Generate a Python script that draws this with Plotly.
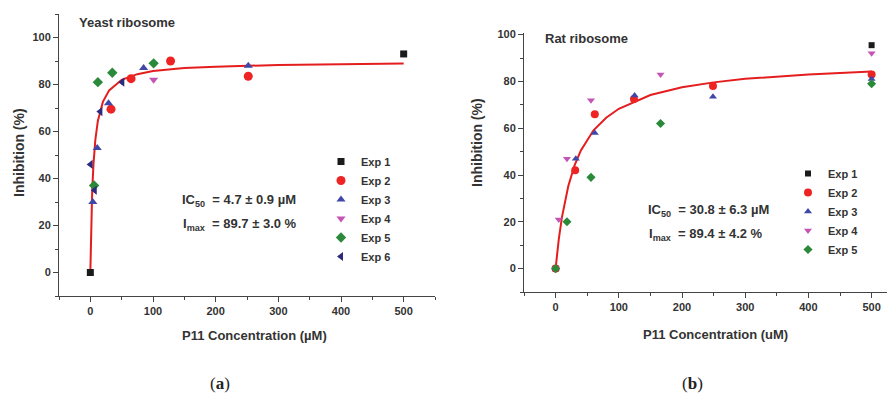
import plotly.graph_objects as go

# ---------------- Data: panel (a) Yeast ribosome ----------------
a_exp1_x = [0, 500]
a_exp1_y = [0, 93]
a_exp2_x = [33, 65, 128, 252]
a_exp2_y = [69.5, 82.5, 90, 83.5]
a_exp3_x = [4, 11, 29, 85, 252]
a_exp3_y = [30, 53, 72, 87, 88]
a_exp4_x = [101]
a_exp4_y = [82]
a_exp5_x = [6, 12, 35, 101]
a_exp5_y = [37, 81, 85, 89]
a_exp6_x = [0.5, 7, 16, 51]
a_exp6_y = [46, 35, 68.5, 81]
# fitted curve
a_fit_x = [0, 1, 2, 3, 5, 8, 12, 20, 30, 50, 75, 100, 150, 200, 300, 400, 500]
a_fit_y = [0, 15.7, 26.8, 35, 46, 56.5, 64.5, 72.6, 77.5, 82, 84.4, 85.7, 87, 87.6, 88.3, 88.7, 88.9]

# ---------------- Data: panel (b) Rat ribosome ----------------
b_exp1_x = [0, 500]
b_exp1_y = [0, 95.5]
b_exp2_x = [0, 31, 62, 124, 249, 500]
b_exp2_y = [0, 42, 66, 72.5, 78, 83]
b_exp3_x = [0, 32, 62, 125, 249, 500]
b_exp3_y = [0, 47, 58, 74, 73.5, 81]
b_exp4_x = [0, 5, 18, 56, 166, 500]
b_exp4_y = [0, 21, 47, 72, 83, 92]
b_exp5_x = [0, 18, 56, 166, 500]
b_exp5_y = [0, 20, 39, 62, 79]
b_fit_x = [0, 2, 5, 10, 15, 20, 30, 40, 60, 80, 100, 150, 200, 250, 300, 400, 500]
b_fit_y = [0, 5.5, 12.5, 21.9, 29.3, 35.2, 44.1, 50.5, 59.1, 64.5, 68.3, 74.2, 77.5, 79.6, 81.1, 83, 84.2]

series_names = ["Exp 1", "Exp 2", "Exp 3", "Exp 4", "Exp 5", "Exp 6"]
colors = ["#1b1b1b", "#ee2424", "#3f48a8", "#c455b4", "#2a8a3a", "#2b2a7e"]
symbols = ["square", "circle", "triangle-up", "triangle-down", "diamond", "triangle-left"]
sizes = [7, 9, 8, 8, 8, 8]

# page offset (browser body margin) compensation
W, H, OFF = 887, 387, 8


def px(x):
    return (x - OFF) / W


def py(y):
    return (395 - y) / H


fig = go.Figure()

a_sets = [(a_exp1_x, a_exp1_y), (a_exp2_x, a_exp2_y), (a_exp3_x, a_exp3_y),
          (a_exp4_x, a_exp4_y), (a_exp5_x, a_exp5_y), (a_exp6_x, a_exp6_y)]
b_sets = [(b_exp1_x, b_exp1_y), (b_exp2_x, b_exp2_y), (b_exp3_x, b_exp3_y),
          (b_exp4_x, b_exp4_y), (b_exp5_x, b_exp5_y)]

fig.add_trace(go.Scatter(x=a_fit_x, y=a_fit_y, mode="lines", line=dict(color="#e41e1e", width=2),
                         showlegend=False, xaxis="x", yaxis="y"))
for i, (xs, ys) in enumerate(a_sets):
    fig.add_trace(go.Scatter(x=xs, y=ys, mode="markers", name=series_names[i],
                             marker=dict(symbol=symbols[i], color=colors[i], size=sizes[i]),
                             xaxis="x", yaxis="y", legend="legend"))

fig.add_trace(go.Scatter(x=b_fit_x, y=b_fit_y, mode="lines", line=dict(color="#e41e1e", width=2),
                         showlegend=False, xaxis="x2", yaxis="y2"))
for i, (xs, ys) in enumerate(b_sets):
    fig.add_trace(go.Scatter(x=xs, y=ys, mode="markers", name=series_names[i],
                             marker=dict(symbol=symbols[i], color=colors[i], size=sizes[i] - 1),
                             xaxis="x2", yaxis="y2", legend="legend2"))

axis_common = dict(showline=True, linecolor="#444", linewidth=1, ticks="outside", ticklen=5,
                   tickcolor="#444", showgrid=False, zeroline=False, automargin=False,
                   tickfont=dict(family="Liberation Sans", size=11, color="#333", weight="bold"))
minor = dict(ticklen=3, tickcolor="#444", ticks="outside")

fig.update_layout(
    width=W, height=H, margin=dict(l=0, r=0, t=0, b=0, autoexpand=False),
    paper_bgcolor="white", plot_bgcolor="white",
    xaxis=dict(domain=[px(59), px(435)], range=[-50, 550], tick0=0, dtick=100,
               minor=dict(dtick=50, **minor), anchor="y", **axis_common),
    yaxis=dict(domain=[py(296), py(14)], range=[-10, 110], tick0=0, dtick=20,
               minor=dict(dtick=10, **minor), anchor="x", **axis_common),
    xaxis2=dict(domain=[px(524), 1.0], range=[-50, 537], tick0=0, dtick=100,
                minor=dict(dtick=50, **minor), anchor="y2", **axis_common),
    yaxis2=dict(domain=[py(292), py(33)], range=[-10, 100.7], tick0=0, dtick=20,
                minor=dict(dtick=10, **minor), anchor="x2", **axis_common),
    legend=dict(x=px(321), y=py(147), xanchor="left", yanchor="top",
                bgcolor="rgba(0,0,0,0)", tracegroupgap=0,
                font=dict(family="Liberation Sans", size=11, color="#333", weight="bold")),
    legend2=dict(x=px(788), y=py(159), xanchor="left", yanchor="top",
                 bgcolor="rgba(0,0,0,0)", tracegroupgap=0,
                 font=dict(family="Liberation Sans", size=11, color="#333", weight="bold")),
)

font_b = dict(family="Liberation Sans", color="#333", weight="bold")
ann = [
    dict(text="Yeast ribosome", x=px(77), y=py(23), xanchor="left", font=dict(size=13, **font_b)),
    dict(text="Rat ribosome", x=px(543), y=py(38), xanchor="left", font=dict(size=13, **font_b)),
    dict(text="IC<sub>50</sub>  = 4.7 ± 0.9 µM", x=px(180), y=py(201), xanchor="left", font=dict(size=13, **font_b)),
    dict(text="I<sub>max</sub>  = 89.7 ± 3.0 %", x=px(181), y=py(225), xanchor="left", font=dict(size=13, **font_b)),
    dict(text="IC<sub>50</sub>  = 30.8 ± 6.3 µM", x=px(646), y=py(210), xanchor="left", font=dict(size=13, **font_b)),
    dict(text="I<sub>max</sub>  = 89.4 ± 4.2 %", x=px(647), y=py(234), xanchor="left", font=dict(size=13, **font_b)),
    dict(text="P11 Concentration (µM)", x=px(254), y=py(335), xanchor="center", font=dict(size=13, **font_b)),
    dict(text="P11 Concentration (uM)", x=px(715), y=py(334), xanchor="center", font=dict(size=13, **font_b)),
    dict(text="Inhibition (%)", x=px(19), y=py(153), textangle=-90, xanchor="center", font=dict(size=14, **font_b)),
    dict(text="Inhibition (%)", x=px(477), y=py(142), textangle=-90, xanchor="center", font=dict(size=14, **font_b)),
    dict(text="(<b>a</b>)", x=px(220), y=py(383), xanchor="center",
         font=dict(family="Liberation Serif", size=17, color="#222")),
    dict(text="(<b>b</b>)", x=px(692), y=py(383), xanchor="center",
         font=dict(family="Liberation Serif", size=17, color="#222")),
]
for a in ann:
    a.update(xref="paper", yref="paper", showarrow=False, yanchor="middle")
    fig.add_annotation(**a)

fig.write_html("out.html")
